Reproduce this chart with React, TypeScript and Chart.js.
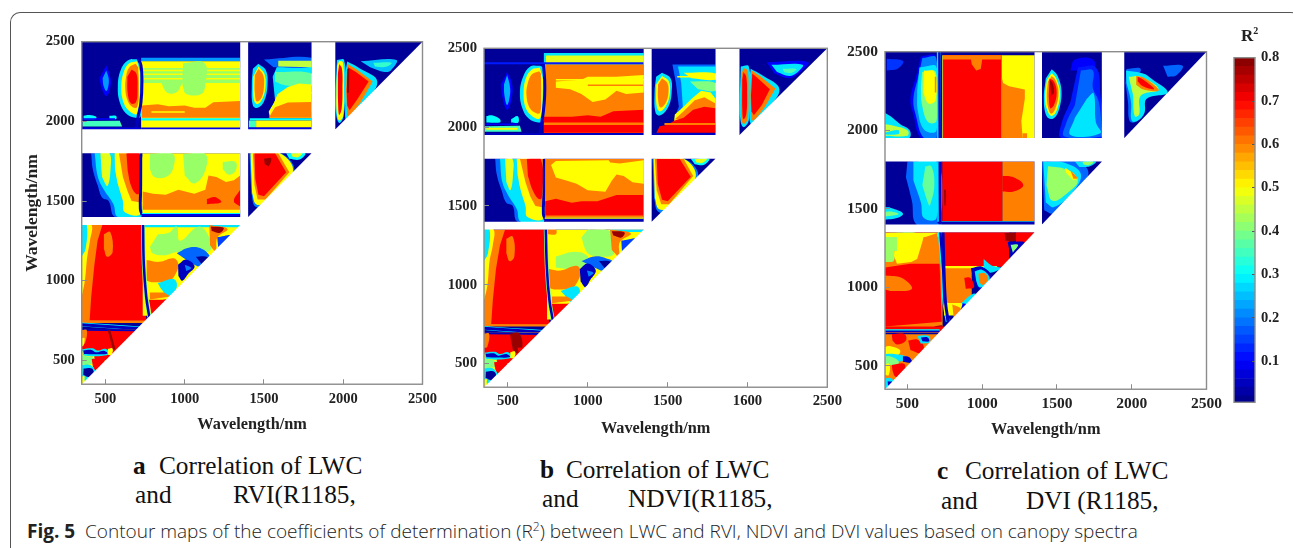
import React, { useEffect, useRef } from "react";
import { Chart, registerables } from "chart.js";
Chart.register(...registerables);

// Contour regions, in wavelength/nm on both axes; the number is R2 x 100.
// "r" = rectangle given by two corners, "s" = smooth outline, "wN:" = contour line of width N, none = polygon.
const panelATop = [
"r22|725,2375 1350,2400","r50|725,1950 1350,2378","r42|735,2240 1350,2335",
"w1.5:50|735,2320 1350,2320","w1.5:50|735,2295 1350,2295","w1.5:50|735,2268 1350,2268",
"s42|850,2245 890,2180 950,2185 985,2245","s42|990,2365 1125,2365 1130,2230 1105,2172 1010,2172 985,2230",
"60|730,2022 730,2100 830,2108 900,2095 1000,2100 1060,2085 1130,2085 1180,2120 1350,2128 1350,2022",
"w1.5:50|790,2058 1000,2058","r30|725,2006 1350,2020","r8|725,1950 1350,1962",
"s10|505,2350 530,2280 530,2210 505,2160 475,2210 462,2270","s22|505,2320 520,2270 518,2220 505,2190 487,2225 482,2270",
"s28|700,2392 640,2382 595,2320 578,2220 590,2120 630,2050 690,2022 722,2030 728,2200 722,2380",
"s50|700,2378 650,2365 615,2310 600,2220 610,2130 645,2070 695,2045 712,2100 720,2300",
"s60|690,2362 650,2340 630,2280 625,2200 640,2130 670,2090 700,2090 710,2200 706,2340",
"s70|665,2325 695,2300 702,2200 692,2120 660,2113 640,2180 638,2280",
"w3:5|702,2400 724,2350 730,2250 724,2120 706,2030 692,1952",
"s30|362,2035 400,2040 440,2030 440,2015 362,2012","s30|525,2035 565,2035 568,2015 525,2015",
"35|355,2002 590,2004 605,1968 355,1968","w1.5:10|350,2015 560,2015","r8|350,1950 720,1962",
"28|1600,2385 1800,2385 1800,2060 1530,2060 1570,2130 1555,2280","s18|1500,2388 1800,2400 1800,2345 1560,2340","45|1590,2380 1800,2380 1800,2340 1590,2345",
"s38|1570,2310 1800,2300 1800,2225 1640,2225 1570,2250",
"50|1585,2170 1650,2215 1720,2238 1800,2232 1800,2020 1538,2020 1530,2060 1560,2110",
"60|1530,2022 1570,2088 1650,2118 1800,2122 1800,2022","w1.5:50|1660,2180 1800,2180",
"r30|1410,2006 1800,2020","r50|1450,1962 1800,2006","r35|1405,1962 1450,2006","r8|1400,1950 1800,1962",
"s28|1465,2362 1512,2320 1522,2230 1502,2130 1460,2085 1430,2100 1423,2230 1430,2330",
"s50|1465,2345 1502,2300 1510,2225 1492,2145 1458,2108 1435,2140 1432,2280",
"s60|1465,2330 1495,2290 1500,2220 1485,2150 1455,2125 1442,2180 1442,2290",
"s28|1960,2385 2005,2385 2012,2200 2002,2030 1975,1990 1955,2050 1952,2200",
"s50|1975,2380 1998,2370 2005,2200 1998,2030 1975,2005 1960,2050 1957,2200 1962,2350",
"s70|1975,2360 1992,2330 1995,2200 1990,2080 1975,2040 1968,2100 1966,2300",
"s28|2025,2375 2100,2335 2215,2250 2120,2100 2050,2005 2020,1995 2012,2100 2012,2300",
"60|2025,2362 2090,2322 2185,2250 2110,2120 2050,2040 2025,2030 2018,2200",
"70|2030,2340 2080,2310 2160,2250 2090,2140 2040,2070 2025,2100 2022,2200",
"w2:78|2032,2330 2030,2180",
"s25|2110,2378 2335,2385 2300,2320 2260,2310 2170,2340","s34|2190,2368 2305,2368 2270,2342 2200,2345",
];
const panelAMid = [
"s18|410,1800 420,1700 450,1600 480,1520 520,1500 560,1400 725,1400 725,1800",
"s28|432,1800 452,1650 490,1570 550,1480 578,1400 725,1400 725,1800",
"s48|468,1800 525,1800 532,1700 512,1595 478,1650",
"s50|558,1800 725,1800 725,1425 622,1430 610,1500 580,1600 560,1700",
"60|585,1800 725,1800 725,1490 665,1500 640,1560 610,1650",
"s70|632,1800 712,1800 716,1550 692,1545 660,1600 640,1690",
"w3:5|724,1800 723,1600 720,1450 732,1412",
"r50|733,1425 1350,1800",
"s42|780,1795 925,1795 925,1700 880,1650 810,1650 780,1700",
"s42|990,1795 1130,1795 1125,1680 1060,1610 1000,1660","s42|1240,1745 1320,1745 1320,1690 1280,1665 1240,1700",
"60|735,1560 800,1545 880,1540 960,1570 1060,1545 1130,1570 1150,1660 1200,1650 1260,1620 1310,1630 1350,1660 1350,1445 735,1445",
"s70|1140,1512 1190,1525 1230,1492 1140,1480","s70|1350,1570 1310,1500 1350,1465",
"r8|730,1404 1350,1418","r30|730,1418 1350,1424",
"s20|1408,1800 1605,1800 1690,1680 1510,1475 1445,1465 1420,1550",
"s50|1415,1800 1600,1800 1682,1680 1510,1490 1450,1480 1425,1550",
"60|1430,1800 1590,1800 1660,1680 1510,1510 1460,1510 1440,1600",
"70|1440,1800 1570,1800 1640,1680 1500,1530 1465,1540 1445,1640",
"s78|1500,1765 1545,1768 1530,1720 1505,1730",
"s30|1640,1800 1760,1800 1725,1760 1660,1765","s48|1670,1798 1740,1798 1715,1775 1680,1778",
];
const panelALow = [
"r60|350,740 735,1350",
"s50|350,1350 412,1350 402,1250 385,1150 370,1000 350,900",
"s28|350,1350 382,1350 375,1200 350,1150",
"70|480,1350 725,1350 745,1000 755,780 760,745 400,750 410,900 430,1100 450,1250",
"s60|490,1292 530,1305 545,1180 510,1150 490,1200",
"r50|735,780 1350,1350",
"r28|745,1335 1350,1350",
"s42|830,1290 900,1300 950,1340 970,1250 1090,1340 1160,1260 1160,1190 1000,1170 950,1180 880,1160 800,1170 780,1210",
"s60|760,1130 840,1118 930,1140 960,1100 935,1030 900,1000 800,990 760,1000",
"s18|950,1172 1030,1208 1110,1198 1160,1140 1100,1090 1040,1110",
"s5|958,1100 1010,1132 1062,1090 1020,1040 985,1000 960,1030","s20|1000,1100 1040,1080 1010,1060",
"s2|1070,1150 1130,1152 1165,1130 1110,1100",
"s28|830,985 930,1010 950,960 900,900 850,950",
"s70|775,880 860,880 900,880 850,790 790,790","60|780,925 870,925 910,900 780,882",
"s60|1155,1350 1270,1325 1205,1270 1195,1185 1160,1220",
"s78|1165,1340 1245,1332 1222,1300 1170,1312","s15|1205,1272 1295,1282 1212,1200",
"w4:40|737,1350 742,1100 757,900 777,770","w2.5:5|737,1350 742,1100 757,900 777,770",
"r70|350,350 800,692","r60|350,735 760,750",
"w4:30|350,725 540,712 720,700","w3:5|350,724 540,711 720,699",
"r60|350,690 740,697","w2:5|350,692 700,688",
"s60|350,690 382,690 370,605 350,600","s50|350,640 368,640 360,590 350,590",
"50|350,350 800,350 800,560 350,560","r70|430,500 800,560",
"s70|540,600 800,600 800,500 560,510",
"s28|352,570 420,575 450,560 500,572 525,540 430,525 360,530",
"s5|360,562 412,565 440,550 490,560 512,542 430,538 365,540",
"s50|515,572 545,575 538,535 515,535",
"s40|350,530 410,520 440,505 420,480 350,470",
"s70|413,508 490,512 482,445 440,430 420,465",
"s28|350,470 405,470 440,420 430,380 390,370 350,380",
"s2|362,448 415,448 425,405 392,395 360,410",
"w2.5:78|522,690 555,568","s50|350,400 368,400 360,350 350,350",
];

const panelBTop = [
"r28|725,2395 1350,2470","r48|738,2400 1350,2455","w2:12|350,2405 1350,2405",
"r60|725,1950 1350,2398",
"50|1000,2320 1180,2320 1350,2330 1350,2220 1240,2210 1180,2230 1110,2175 1030,2160 960,2210 890,2240 800,2250 800,2290 960,2300",
"w1.5:50|800,2300 1350,2300","w1.5:60|1000,2265 1350,2265",
"70|725,2030 725,2065 900,2065 1000,2075 1080,2065 1160,2100 1350,2110 1350,2030",
"r70|725,1965 1350,2015","w2:60|725,2020 1350,2020","r5|700,1950 1350,1962",
"s10|495,2350 525,2280 525,2190 495,2110 465,2190 455,2270","s24|495,2330 512,2260 512,2200 495,2140 478,2200 475,2270",
"s28|700,2390 640,2385 595,2320 575,2220 590,2120 630,2055 690,2030 722,2040 728,2200 722,2380",
"s50|700,2378 650,2365 612,2310 598,2220 608,2130 645,2075 695,2052 712,2100 720,2300",
"s60|695,2355 650,2335 622,2270 616,2200 632,2130 665,2095 700,2090 708,2200 706,2340",
"w3:5|722,2400 730,2300 730,2200 722,2100 712,2030 700,1955",
"s30|365,2070 400,2075 450,2050 450,2030 365,2030","s30|520,2050 560,2070 565,2030 520,2030",
"35|355,2005 575,2008 585,1970 355,1970","w2:50|365,1990 560,1990","w1.5:10|350,2018 560,2018","r5|350,1950 700,1962",
"18|1530,2398 1800,2398 1800,2050 1540,2050 1570,2130 1552,2280","28|1565,2385 1800,2385 1800,2060 1548,2060 1595,2130 1585,2280",
"s50|1600,2345 1800,2340 1800,2300 1650,2310","w1.5:50|1560,2320 1800,2320",
"s40|1640,2290 1800,2280 1800,2230 1690,2240",
"50|1545,2080 1600,2130 1650,2180 1710,2230 1770,2220 1800,2180 1800,2030 1540,2030",
"60|1545,2050 1600,2100 1670,2170 1730,2190 1800,2150 1800,2030",
"70|1540,2040 1600,2060 1660,2110 1730,2130 1800,2120 1800,1965 1430,1965 1450,2005 1500,2015",
"w2:60|1480,2020 1800,2020","r5|1400,1950 1800,1962",
"s28|1465,2345 1518,2310 1525,2220 1505,2130 1455,2075 1425,2090 1418,2220 1428,2320",
"s50|1465,2325 1505,2295 1515,2225 1495,2145 1455,2100 1432,2130 1428,2270",
"s60|1465,2310 1498,2280 1505,2220 1488,2155 1455,2125 1440,2180 1440,2270",
"s28|1958,2385 2008,2385 2015,2200 2008,2040 1975,2000 1955,2050 1952,2200",
"s60|1975,2375 2000,2360 2006,2200 2000,2050 1975,2020 1962,2060 1960,2200 1964,2340",
"s70|1975,2350 1992,2320 1998,2200 1992,2080 1975,2050 1968,2100 1967,2300",
"s28|2020,2370 2090,2330 2200,2240 2120,2110 2050,2020 2020,2020 2012,2100 2012,2300",
"60|2025,2360 2080,2322 2175,2245 2110,2130 2050,2050 2025,2040 2018,2200",
"70|2030,2340 2070,2305 2140,2240 2090,2140 2040,2075 2025,2100 2022,2200",
"s10|2120,2412 2380,2412 2330,2350 2260,2310 2170,2340",
"s28|2150,2395 2345,2395 2310,2345 2260,2325 2185,2350","s36|2220,2370 2305,2368 2280,2345 2230,2348",
];
const panelBMid = [
"s18|420,1800 430,1700 460,1600 490,1520 530,1500 560,1400 725,1400 725,1800",
"s28|450,1800 465,1650 500,1570 555,1480 580,1400 725,1400 725,1800",
"s48|482,1800 528,1800 532,1700 515,1600 490,1650",
"s50|555,1800 725,1800 725,1425 622,1430 610,1500 580,1600 560,1700",
"60|575,1800 725,1800 725,1490 672,1500 640,1560 610,1650",
"s70|618,1800 705,1800 712,1550 690,1545 655,1600 625,1690",
"w3:5|728,1800 727,1600 722,1450 735,1412",
"r60|733,1425 1350,1800",
"50|770,1760 800,1785 1130,1790 1140,1775 1200,1770 1350,1790 1350,1640 1280,1650 1225,1690 1180,1700 1150,1660 1110,1590 1000,1600 930,1640 870,1660 800,1680",
"70|733,1440 733,1530 800,1545 900,1520 960,1530 1060,1530 1180,1570 1350,1570 1350,1440",
"r5|730,1404 1350,1418","r50|730,1418 1350,1426",
"s20|1405,1800 1605,1800 1690,1680 1510,1470 1440,1465 1415,1550",
"s50|1412,1800 1600,1800 1675,1680 1510,1490 1445,1480 1420,1550",
"60|1420,1800 1600,1800 1660,1690 1510,1510 1460,1510 1432,1600",
"70|1432,1800 1575,1800 1645,1685 1500,1530 1465,1540 1438,1640",
"s30|1645,1800 1760,1800 1725,1760 1670,1765","s48|1670,1798 1745,1798 1715,1772 1680,1775",
];
const panelBLow = [
"r60|350,740 735,1350",
"s50|350,1350 410,1350 405,1250 385,1150 372,1000 350,900",
"s28|350,1350 385,1350 375,1200 350,1150",
"70|482,1350 728,1350 745,1000 755,780 765,745 395,750 405,900 425,1100 450,1250",
"s60|490,1292 530,1305 540,1180 510,1150 490,1200",
"r50|745,780 1350,1350","s60|745,1350 800,1350 800,1320 745,1320",
"r28|1140,1335 1350,1350",
"s42|1000,1350 1140,1340 1160,1260 1160,1190 1070,1180 1000,1200 960,1300",
"s42|800,1180 920,1210 1000,1180 1000,1120 900,1100 800,1110",
"s60|755,1100 830,1090 930,1120 955,1080 930,1010 900,980 800,970 755,980",
"s18|960,1150 1040,1180 1110,1170 1180,1130 1100,1090 1040,1110",
"s5|950,1100 1000,1135 1050,1090 1015,1030 985,985 955,1020","s20|995,1090 1035,1075 1005,1050",
"s2|1070,1150 1130,1150 1160,1130 1110,1100",
"s28|830,960 930,990 950,950 900,890 850,940",
"s70|770,880 860,880 905,880 850,790 785,790","60|775,925 870,925 910,900 775,882",
"s60|1140,1350 1270,1325 1200,1270 1195,1180 1150,1220",
"s78|1150,1340 1230,1332 1210,1300 1160,1312","s15|1210,1280 1310,1290 1215,1190",
"w4:40|737,1350 744,1100 760,900 782,770","w2.5:5|737,1350 744,1100 760,900 782,770",
"r70|350,350 800,692","r60|350,735 770,750",
"w4:30|350,725 540,712 720,700","w3:5|350,724 540,711 720,699",
"r60|350,690 740,697","w2:5|350,692 700,688",
"s60|350,690 382,690 370,605 350,600",
"s78|512,690 570,692 590,600 555,565 530,590",
"50|350,350 800,350 800,560 350,560","r70|430,500 800,560",
"s70|560,600 800,600 800,500 580,510",
"s28|352,570 420,575 450,560 500,572 525,540 430,525 360,530",
"s5|360,562 412,565 440,550 490,560 512,542 430,538 365,540",
"s50|515,572 545,575 538,535 515,535",
"s40|350,530 410,520 440,505 420,480 350,470",
"s70|413,508 490,512 482,445 440,430 420,465",
"s28|350,470 405,470 440,420 430,380 390,370 350,380",
"s2|362,448 415,448 425,405 392,395 360,410","s50|350,400 368,400 360,350 350,350",
];

const panelCTop = [
"s14|362,2455 470,2440 440,2395 362,2380",
"s28|350,2110 385,2090 450,2040 515,2000 510,1950 350,1950",
"s45|350,2040 400,2030 500,2000 500,1965 350,1965","s28|350,1985 440,2000 440,1975 350,1972",
"s10|590,2470 690,2470 695,1950 590,1950 540,2100 520,2200 560,2350",
"s20|600,2460 692,2460 695,1950 610,1950 555,2100 540,2200 575,2350",
"s28|580,2400 695,2400 695,2000 615,2000 570,2120 565,2250",
"s40|598,2370 690,2370 695,2060 640,2050 600,2150 590,2270",
"s50|610,2380 680,2370 688,2190 640,2170 605,2240",
"w1.5:60|688,2340 688,2240",
"w4:28|710,2500 712,1950","w2.5:5|714,2500 716,1950",
"r50|733,1950 1350,2478",
"r70|738,1950 1130,2478","60|738,2450 738,2478 1125,2478 1125,2450 1000,2450 990,2390 960,2380 930,2420 925,2450",
"60|1130,1950 1270,1950 1262,2060 1285,2200 1285,2260 1180,2280 1140,2300 1130,2340",
"r60|1270,1950 1300,1980",
"s10|1590,2380 1620,2450 1740,2450 1760,2380",
"s28|1465,2388 1502,2350 1530,2250 1510,2120 1470,2072 1430,2090 1412,2200 1425,2330",
"s50|1465,2365 1495,2330 1520,2240 1500,2130 1465,2090 1438,2120 1420,2200 1432,2320",
"s60|1465,2345 1490,2320 1510,2240 1490,2140 1462,2105 1442,2140 1432,2220 1440,2310",
"s70|1450,2330 1480,2310 1498,2240 1480,2160 1455,2140 1445,2220","s78|1452,2320 1470,2300 1480,2240 1462,2220",
"s12|1640,2400 1760,2400 1790,2230 1800,1950 1530,1950 1530,2040 1590,2180",
"s18|1660,2380 1740,2380 1740,2270 1780,2180 1800,2000 1800,1960 1550,1960 1560,2040 1620,2160",
"s28|1700,2200 1745,2235 1760,2050 1790,1980 1590,1970 1620,2080",
"s18|1965,2390 2060,2390 2020,2300 2080,2170 2070,2100 2020,2050 1985,2060 1975,2180 1958,2300",
"s28|1962,2380 2080,2360 2130,2330 2240,2240 2100,2200 2085,2110 2040,2060 2000,2060 1995,2180 1965,2300",
"s45|1980,2340 2060,2340 2180,2260 2060,2220 2050,2100 2020,2090 2010,2220",
"s60|2030,2345 2090,2330 2180,2255 2080,2260 2030,2290",
"s70|2040,2340 2080,2320 2150,2262 2075,2280 2040,2310",
"s18|2210,2410 2340,2410 2300,2350 2240,2340",
];
const panelCMid = [
"s18|500,1800 700,1800 705,1400 560,1400 530,1550 490,1700",
"s28|540,1800 695,1800 695,1440 610,1440 590,1540 540,1680",
"s38|620,1770 660,1770 680,1650 650,1520 640,1530 600,1650",
"s28|350,1510 390,1505 470,1470 430,1440 350,1430","s40|350,1480 400,1480 440,1465 350,1450",
"w4:28|712,1800 714,1400","w2.5:5|716,1800 718,1400",
"r70|733,1420 1135,1800","r60|1135,1420 1350,1800",
"s70|1135,1710 1210,1700 1275,1650 1210,1610 1135,1610","s78|745,1620 757,1620 755,1520 747,1520",
"r5|700,1404 1350,1416","r30|730,1416 1350,1420",
"s18|1400,1800 1640,1800 1710,1720 1600,1570 1470,1470 1415,1490",
"s28|1408,1800 1560,1790 1660,1720 1600,1600 1480,1510 1425,1540",
"s42|1440,1770 1560,1750 1640,1680 1570,1600 1470,1550 1430,1650",
"50|1555,1760 1610,1725 1640,1690 1610,1680 1560,1730","60|1590,1745 1630,1705 1640,1690 1610,1690",
"s28|1620,1800 1760,1800 1720,1770 1650,1765","s42|1670,1798 1745,1798 1715,1778 1680,1780",
];
const panelCLow = [
"r60|350,740 735,1350",
"s42|350,1345 560,1345 420,1300 410,1170 350,1160",
"50|430,1340 615,1345 600,1290 565,1180 525,1160 430,1150 410,1200 420,1300",
"r50|350,1320 715,1345","r42|350,1230 430,1320",
"60|620,1320 700,1345 715,1150 620,1150",
"70|350,1125 520,1150 715,1150 730,780 350,750",
"s60|350,1075 460,1060 530,990 400,975 350,985",
"w4:30|716,1350 738,1100 748,900 770,780","w2.5:5|720,1350 740,1100 750,900 772,780",
"r70|742,1130 1180,1350","r60|745,900 930,1130","r50|745,1120 1100,1135",
"s78|1150,1345 1225,1345 1220,1295 1155,1295","r70|1225,1180 1350,1350",
"s5|1170,1290 1290,1280 1220,1190 1190,1190","s40|1190,1270 1240,1270 1205,1220",
"s70|880,1060 920,1060 945,1000 890,990",
"s28|1010,1180 1060,1140 1100,1130 1130,1120 1040,1090 1010,1120",
"s5|925,1120 1000,1130 1070,1060 1040,1000 985,980 945,1030","s28|950,1100 1000,1110 1050,1060 1020,1010 980,1000 960,1040",
"s60|975,1085 1015,1090 1040,1050 1005,1015 980,1030",
"r50|745,820 900,900","s28|860,900 950,960 980,900 900,860",
"s60|800,890 860,860 850,800 810,800","s10|870,900 920,880 880,820 850,830",
"w3:5|738,1350 745,1100 755,900 775,770",
"s78|680,750 735,755 728,730 690,728",
"r70|350,710 780,750","w3:30|350,722 715,722","w1.5:5|350,720 715,720",
"r60|350,350 800,700",
"s70|395,700 480,702 490,660 430,635 400,660","s70|505,660 570,665 610,620 590,580 520,600",
"s28|565,690 640,690 650,650 590,640","s5|590,680 635,680 645,655 600,655",
"s50|350,620 380,625 450,600 440,570 350,555",
"s28|352,575 410,575 500,555 470,530 370,530","s5|470,560 510,555 530,520 470,525",
"s40|350,555 380,560 440,530 430,500 350,510",
"s70|395,505 480,510 470,440 420,430 400,470","s50|350,510 380,510 375,440 350,440",
"s28|350,420 390,420 420,380 380,355 350,355","s5|368,400 400,395 390,375 370,375",
];

const axisRange = [350, 2500];
const baseRegion = ["r2|350,350 2500,2500"];
const blankRegions = ["r101|1350,350 1400,2500","r101|1800,350 1950,2500","r101|350,1350 2500,1400","r101|350,1800 2500,1950","101|350,350 2500,350 2500,2500"];
const tickValues = [500, 1000, 1500, 2000, 2500];
const xTickTextA = ["500", "1000", "1500", "2000", "2500"];
const xTickTextB = ["500", "1000", "1500", "1600", "2500"];
const xTickTextC = ["500", "1000", "1500", "2000", "2500"];
const colorBarTicks = [0.1, 0.2, 0.3, 0.4, 0.5, 0.6, 0.7, 0.8];
const colorBarSteps = [0.005,0.02,0.04,0.06,0.08,0.1,0.12,0.14,0.16,0.18,0.2,0.22,0.24,0.26,0.28,0.3,0.32,0.34,0.36,0.38,0.4,0.42,0.44,0.46,0.48,0.5,0.52,0.54,0.56,0.58,0.6,0.62,0.64,0.66,0.68,0.7,0.72,0.74,0.76,0.78,0.8];

const clamp = (n: number) => Math.max(0, Math.min(1, n));
function jet(r2: number) {
  const t = r2 / 0.8;
  const c = (k: number) => Math.round(255 * clamp(1.5 - Math.abs(4 * t - k)));
  return `rgb(${c(3)},${c(2)},${c(1)})`;
}

function regionDataset(spec: string, i: number, total: number) {
  const [head, body] = spec.split("|");
  const m = /^(r|s|w([\d.]+):)?(\d+)$/.exec(head)!;
  const value = Number(m[3]);
  const colour = value > 100 ? "#ffffff" : jet(value / 100);
  let pts = body.split(" ").map((p) => { const [x, y] = p.split(",").map(Number); return { x, y }; });
  if (m[1] === "r") pts = [pts[0], { x: pts[1].x, y: pts[0].y }, pts[1], { x: pts[0].x, y: pts[1].y }];
  const stroke = m[2] !== undefined;
  return {
    type: "line", label: head, data: pts, parsing: false, normalized: false, pointRadius: 0, showLine: true,
    tension: m[1] === "s" || stroke ? 0.4 : 0, cubicInterpolationMode: "default",
    borderWidth: stroke ? Number(m[2]) : 0, borderColor: stroke ? colour : "rgba(0,0,0,0)",
    backgroundColor: colour, fill: stroke ? false : "shape", order: total - i,
  };
}

const framePlugin = {
  id: "frame",
  afterDraw(chart: any) {
    const { ctx, chartArea: a } = chart;
    ctx.save();
    ctx.strokeStyle = "#8c8c8c";
    ctx.lineWidth = 1.4;
    ctx.strokeRect(a.left, a.top, a.right - a.left, a.bottom - a.top);
    ctx.restore();
  },
};

type Panel = { regions: string[]; xText: string[]; l: number; t: number; r: number; b: number; canvasLeft: number; fs: number; yTitle: boolean; tickDrop: number; titleDrop: number };
const panels: Panel[] = [
  { regions: [...panelATop, ...panelAMid, ...panelALow], xText: xTickTextA, l: 81.7, t: 41.7, r: 424.3, b: 384.3, canvasLeft: 20, fs: 14.5, yTitle: true, tickDrop: 12, titleDrop: 41 },
  { regions: [...panelBTop, ...panelBMid, ...panelBLow], xText: xTickTextB, l: 484, t: 48.3, r: 828.3, b: 387.3, canvasLeft: 436, fs: 14.7, yTitle: false, tickDrop: 11, titleDrop: 42 },
  { regions: [...panelCTop, ...panelCMid, ...panelCLow], xText: xTickTextC, l: 885, t: 51.7, r: 1208.3, b: 390, canvasLeft: 840, fs: 15.5, yTitle: false, tickDrop: 11, titleDrop: 41 },
];

const serif = "'Liberation Serif', 'Times New Roman', serif";

function PanelChart({ p }: { p: Panel }) {
  const ref = useRef<HTMLCanvasElement>(null);
  useEffect(() => {
    const top = 20;
    const rightEdge = p.r + 24;
    const lineH = 16.3 * 1.2;
    const axisH = p.titleDrop + lineH / 2;
    const specs = [...baseRegion, ...p.regions, ...blankRegions];
    const datasets: any[] = specs.map((s, i) => regionDataset(s, i, specs.length));
    const ticksFont = { family: serif, weight: "bold" as const, size: p.fs };
    const titleFont = { family: serif, weight: "bold" as const, size: 16.3 };
    const chart = new Chart(ref.current!, {
      type: "scatter",
      data: { datasets },
      options: {
        animation: false, responsive: false, events: [],
        layout: { autoPadding: false, padding: { top: p.t - top, right: rightEdge - p.r, left: 0, bottom: 0 } },
        plugins: { legend: { display: false }, tooltip: { enabled: false }, title: { display: false } },
        scales: {
          x: {
            type: "linear", min: axisRange[0], max: axisRange[1],
            afterBuildTicks: (s: any) => { s.ticks = tickValues.map((value) => ({ value })); },
            afterFit: (s: any) => { s.height = axisH; },
            grid: { drawOnChartArea: false, tickLength: -5, color: "#8c8c8c", z: 1 },
            border: { display: false },
            ticks: { autoSkip: false, maxRotation: 0, padding: p.tickDrop + 5 - 6, color: "#222", font: ticksFont,
              callback: (v: any) => p.xText[tickValues.indexOf(Number(v))] },
            title: { display: true, text: "Wavelength/nm", color: "#222", font: titleFont, padding: 0 },
          },
          y: {
            type: "linear", min: axisRange[0], max: axisRange[1],
            afterBuildTicks: (s: any) => { s.ticks = tickValues.map((value) => ({ value })); },
            afterFit: (s: any) => { s.width = p.l - p.canvasLeft; },
            grid: { drawOnChartArea: false, tickLength: -5, color: "#8c8c8c", z: 1 },
            border: { display: false },
            ticks: { autoSkip: false, padding: 12, color: "#222", font: ticksFont, callback: (v: any) => String(v) },
            title: { display: p.yTitle, text: "Wavelength/nm", color: "#222", font: { ...titleFont, size: 17.5 }, padding: { top: 2, bottom: 0 } },
          },
        },
      } as any,
      plugins: [framePlugin],
    });
    return () => chart.destroy();
  }, [p]);
  return (
    <canvas
      ref={ref}
      width={p.r + 24 - p.canvasLeft}
      height={p.b + p.titleDrop + 16.3 * 0.6 - 20}
      style={{ position: "absolute", left: p.canvasLeft, top: 20, filter: "blur(0.7px)" }}
    />
  );
}

function ColorBar() {
  const ref = useRef<HTMLCanvasElement>(null);
  useEffect(() => {
    const datasets = colorBarSteps.slice(1).map((hi, i) => ({
      label: String(hi),
      data: [[colorBarSteps[i], hi]],
      backgroundColor: jet((colorBarSteps[i] + hi) / 2),
      borderWidth: 0, barPercentage: 1, categoryPercentage: 1, grouped: false,
    }));
    const chart = new Chart(ref.current!, {
      type: "bar",
      data: { labels: ["R2"], datasets },
      options: {
        animation: false, responsive: false, events: [],
        layout: { autoPadding: false, padding: { top: 11, bottom: 9, left: 14, right: 0 } },
        plugins: { legend: { display: false }, tooltip: { enabled: false } },
        scales: {
          x: { display: false, stacked: false },
          y: {
            position: "right", min: 0.005, max: 0.8,
            afterBuildTicks: (s: any) => { s.ticks = colorBarTicks.map((value) => ({ value })); },
            afterFit: (s: any) => { s.width = 33; },
            grid: { drawOnChartArea: false, tickLength: -3, color: "#555", z: 1 },
            border: { display: false },
            ticks: { padding: 9, color: "#222", font: { family: serif, weight: "bold", size: 14.5 }, callback: (v: any) => Number(v).toFixed(1) },
          },
        },
      } as any,
      plugins: [framePlugin],
    });
    return () => chart.destroy();
  }, []);
  return <canvas ref={ref} width={68} height={380} style={{ position: "absolute", left: 1220, top: 40, filter: "blur(0.5px)" }} />;
}

const capStyle: React.CSSProperties = { position: "absolute", fontFamily: serif, fontSize: 25.3, color: "#111", whiteSpace: "pre", lineHeight: "28px" };
const captionLines: [string, number, number, boolean?][] = [
  ["a", 133, 451, true], ["Correlation of LWC", 159, 451], ["and", 135, 480], ["RVI(R1185,", 233, 480],
  ["b", 540, 455, true], ["Correlation of LWC", 566, 455], ["and", 542, 484], ["NDVI(R1185,", 628, 484],
  ["c", 937, 456, true], ["Correlation of LWC", 965, 456], ["and", 941, 486], ["DVI (R1185,", 1026, 486],
];

export default function App() {
  return (
    <div style={{ position: "fixed", left: 0, top: 0, width: 1293, height: 548, background: "#fff", overflow: "hidden" }}>
      <div style={{ position: "absolute", left: 10, top: 12, width: 1290, height: 600, borderLeft: "1.5px solid #555", borderTop: "1.5px solid #555", borderRadius: 10 }} />
      {panels.map((p, i) => <PanelChart key={i} p={p} />)}
      <ColorBar />
      <div style={{ position: "absolute", left: 1241, top: 26, fontFamily: serif, fontWeight: "bold", fontSize: 17, color: "#222" }}>
        R<sup style={{ fontSize: 10, lineHeight: 0 }}>2</sup>
      </div>
      {captionLines.map(([t, x, y, bold], i) => (
        <div key={i} style={{ ...capStyle, left: x, top: y, fontWeight: bold ? "bold" : "normal" }}>{t}</div>
      ))}
      <div style={{ position: "absolute", left: 27, top: 519, fontFamily: "'Open Sans', 'Noto Sans', sans-serif", fontSize: 19, lineHeight: "24px", fontWeight: 300, color: "#222", whiteSpace: "pre" }}>
        <b style={{ fontWeight: 700 }}>Fig. 5</b>{"  Contour maps of the coefficients of determination (R"}<sup style={{ fontSize: 12, lineHeight: 0 }}>2</sup>{") between LWC and RVI, NDVI and DVI values based on canopy spectra"}
      </div>
    </div>
  );
}
